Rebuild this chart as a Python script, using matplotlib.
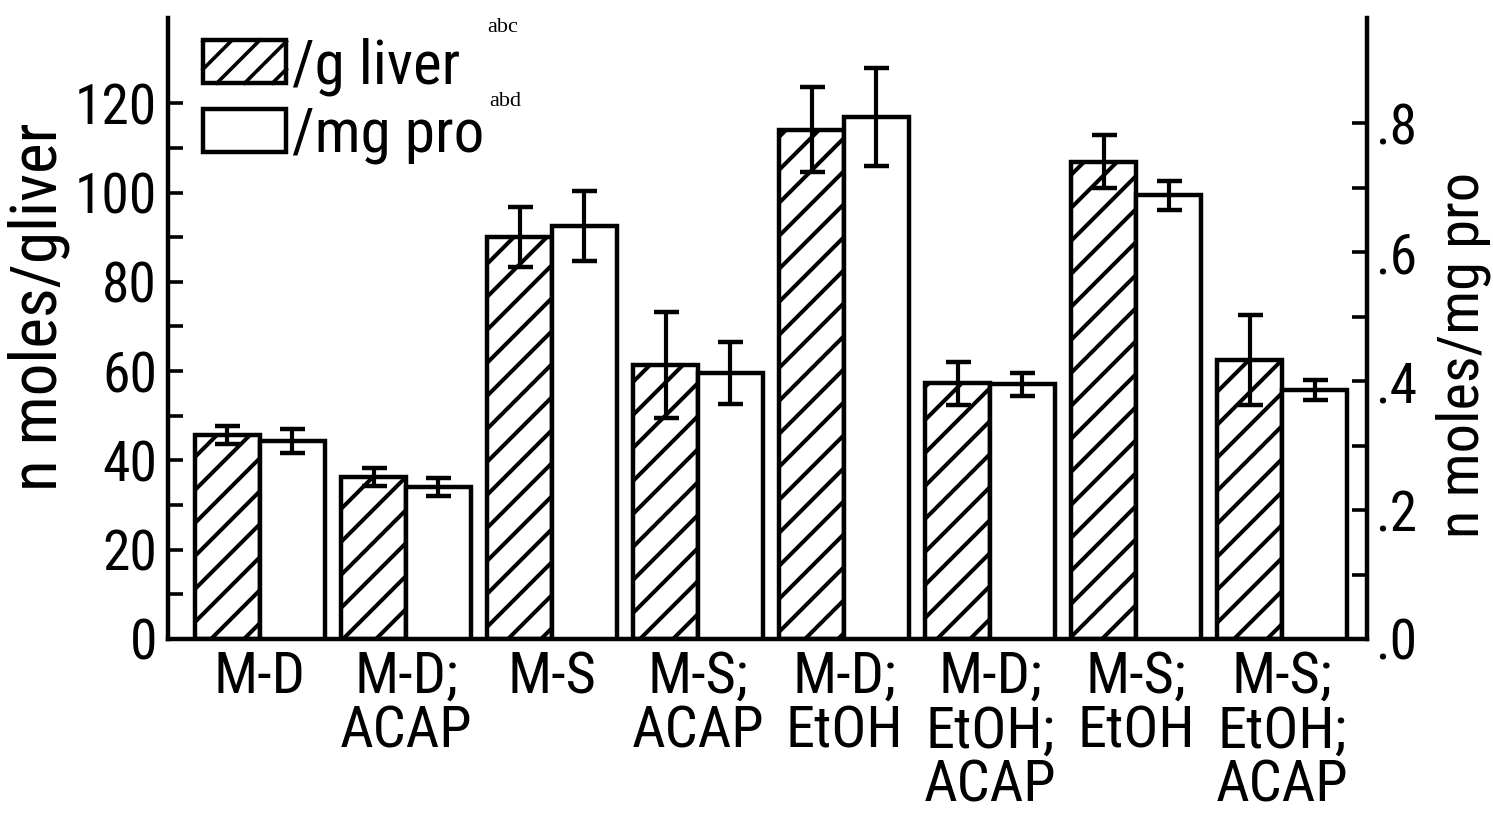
import numpy as np
import matplotlib
matplotlib.use("Agg")
import matplotlib.pyplot as plt
from matplotlib import font_manager
from matplotlib.patches import Rectangle
from matplotlib.lines import Line2D
from matplotlib.legend_handler import HandlerBase
from matplotlib.transforms import IdentityTransform
from matplotlib.ticker import FixedLocator

# ---------------- data ----------------
categories = ["M-D", "M-D;\nACAP", "M-S", "M-S;\nACAP", "M-D;\nEtOH",
              "M-D;\nEtOH;\nACAP", "M-S;\nEtOH", "M-S;\nEtOH;\nACAP"]
per_g_liver = [45.7, 36.3, 90.1, 61.4, 114.1, 57.3, 106.9, 62.5]       # n moles / g liver (left axis)
per_g_liver_err = [2.1, 2.1, 6.7, 11.8, 9.5, 4.8, 5.9, 10.0]
per_mg_pro = [0.307, 0.235, 0.640, 0.413, 0.809, 0.395, 0.688, 0.386]  # n moles / mg pro (right axis)
per_mg_pro_err = [0.019, 0.014, 0.054, 0.048, 0.076, 0.018, 0.022, 0.016]
left_major = [0, 20, 40, 60, 80, 100, 120]
left_minor = [10, 30, 50, 70, 90, 110]
right_ticks = [0.0, 0.1, 0.2, 0.3, 0.4, 0.5, 0.6, 0.7, 0.8]
right_labels = [".0", "", ".2", "", ".4", "", ".6", "", ".8"]
legend_labels = ["/g liver", "/mg pro"]
legend_sups = ["abc", "abd"]


# ---------------- font choice: narrowest installed sans ----------------
def pick_font():
    fonts = [f for f in font_manager.fontManager.ttflist
             if f.style == "normal" and f.weight in (400, "normal", "regular", "book")]
    tests = [
        lambda f: "liberation sans narrow" in f.name.lower(),
        lambda f: "roboto condensed" in f.name.lower(),
        lambda f: "notosans-condensed." in f.fname.lower().replace("_", "-"),
        lambda f: "dejavusanscondensed." in f.fname.lower(),
        lambda f: ("condensed" in f.fname.lower() or "narrow" in f.fname.lower())
                  and "sans" in f.fname.lower() and "mono" not in f.fname.lower()
                  and "bold" not in f.fname.lower() and "italic" not in f.fname.lower()
                  and "extra" not in f.fname.lower() and "semi" not in f.fname.lower(),
    ]
    for t in tests:
        for f in fonts:
            try:
                if t(f):
                    return f.name, f.stretch, True
            except Exception:
                pass
    return "Liberation Sans", "normal", False


fam, stretch, narrow = pick_font()
plt.rcParams["font.family"] = [fam, "DejaVu Sans"]
plt.rcParams["font.stretch"] = stretch
S = 1.0 if narrow else 0.82

LW = 3.2
W, H = 1493, 817
fig = plt.figure(figsize=(W / 100, H / 100), dpi=100)
ax = fig.add_axes([168 / W, (H - 639) / H, 1199 / W, 621 / H])
ax2 = ax.twinx()

x = np.arange(len(categories))
bw = 0.445
ax.set_xlim(-0.63, 7.582)
ax.set_ylim(0, 139.1)
ax2.set_ylim(0, 0.963)

bars1 = ax.bar(x - bw / 2, per_g_liver, bw, facecolor="white", edgecolor="black",
               linewidth=LW, zorder=2)
ax.errorbar(x - bw / 2, per_g_liver, yerr=per_g_liver_err, fmt="none", ecolor="black",
            elinewidth=3, capsize=9, capthick=3.2, zorder=4)
bars2 = ax2.bar(x + bw / 2, per_mg_pro, bw, facecolor="white", edgecolor="black",
                linewidth=LW, zorder=2)
ax2.errorbar(x + bw / 2, per_mg_pro, yerr=per_mg_pro_err, fmt="none", ecolor="black",
             elinewidth=3, capsize=9, capthick=3.2, zorder=4)

# custom wide diagonal hatching (display pixels), clipped to each bar
SP = 33.0
for b in bars1:
    (x0, y0), (x1, y1) = ax.transData.transform([(b.get_x(), 0), (b.get_x() + b.get_width(), b.get_height())])
    for c in np.arange(np.floor((y0 - x1) / SP) * SP, y1 - x0 + SP, SP):
        ln = Line2D([x0 - 5, x1 + 5], [x0 - 5 + c, x1 + 5 + c], color="black", lw=2.9,
                    transform=IdentityTransform(), zorder=2.5)
        ax.add_artist(ln)
        ln.set_clip_path(b)

# ---------------- axes ----------------
for s in ["top", "right"]:
    ax.spines[s].set_visible(False)
for s in ["top", "left", "bottom"]:
    ax2.spines[s].set_visible(False)
ax.spines["left"].set_linewidth(LW)
ax.spines["bottom"].set_linewidth(LW)
ax2.spines["right"].set_linewidth(LW)

ax.yaxis.set_major_locator(FixedLocator(left_major))
ax.yaxis.set_minor_locator(FixedLocator(left_minor))
ax.tick_params(axis="y", which="both", direction="in", length=11, width=2.6, labelsize=40 * S, pad=8)
ax.set_xticks(x)
ax.set_xticklabels(categories, fontsize=42 * S, linespacing=0.98)
ax.tick_params(axis="x", length=0, pad=8)

ax2.yaxis.set_major_locator(FixedLocator(right_ticks))
ax2.set_yticklabels(right_labels)
ax2.tick_params(axis="y", direction="in", length=11, width=2.6, labelsize=40 * S, pad=6)

ax.set_ylabel("n moles/gliver", fontsize=47 * S)
ax.yaxis.set_label_coords(-0.082, 0.535)
ax2.set_ylabel("n moles/mg pro", fontsize=42 * S)
ax2.yaxis.set_label_coords(1.057, 0.457)


# ---------------- legend ----------------
class BoxHandler(HandlerBase):
    def __init__(self, hatched, spacing=20.0):
        super().__init__()
        self.hatched = hatched
        self.spacing = spacing

    def create_artists(self, legend, orig_handle, xdescent, ydescent, width, height, fontsize, trans):
        x0, y0 = -xdescent, -ydescent
        arts = [Rectangle((x0, y0), width, height, facecolor="white", edgecolor="black",
                          linewidth=LW, transform=trans)]
        if self.hatched:
            for c in np.arange(-width + self.spacing / 2, height, self.spacing):
                xs, xe = max(0.0, -c), min(width, height - c)
                if xe > xs:
                    arts.append(Line2D([x0 + xs, x0 + xe], [y0 + xs + c, y0 + xe + c],
                                       color="black", lw=2.6, transform=trans))
        return arts


LFS = 44 * S
h1 = Rectangle((0, 0), 1, 1)
h2 = Rectangle((0, 0), 1, 1)
leg = ax2.legend([h1, h2], legend_labels, handler_map={h1: BoxHandler(True), h2: BoxHandler(False)},
                 loc="upper left", bbox_to_anchor=(203 / W, 1 - 37 / H), bbox_transform=fig.transFigure,
                 frameon=False, fontsize=LFS, handlelength=60 / LFS, handleheight=31 / LFS,
                 handletextpad=0.09, labelspacing=0.17, borderpad=0, borderaxespad=0)

fig.text(487 / W, 1 - 32 / H, legend_sups[0], fontsize=16, family=["Liberation Serif", "DejaVu Serif"])
fig.text(489 / W, 1 - 106 / H, legend_sups[1], fontsize=16, family=["Liberation Serif", "DejaVu Serif"])

fig.savefig("out.png", dpi=100)
